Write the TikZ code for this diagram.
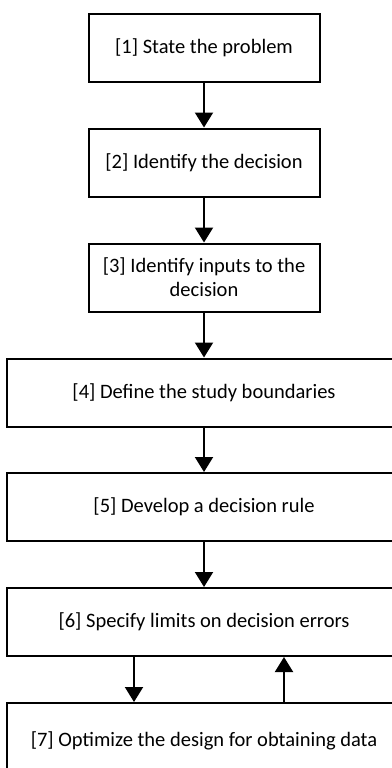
\documentclass[tikz,border=0pt]{standalone}
\usepackage{fontspec}
\setmainfont{Carlito}
\usepackage{tikz}
\usetikzlibrary{arrows.meta,positioning}
\tikzset{
  stepbox/.style={rectangle, draw=black, line width=2pt, fill=white,
                 align=center, inner sep=0pt, minimum height=68pt,
                 font=\fontsize{20.5}{24}\selectfont},
  narrow/.style={stepbox, minimum width=231pt},
  wide/.style  ={stepbox, minimum width=394pt},
  ar/.style    ={-{Triangle[length=15pt,width=18pt]}, draw=black, line width=2pt}
}
\begin{document}
\begin{tikzpicture}[x=1pt,y=-1pt]
\useasboundingbox (0,0) rectangle (391,768);
\node[narrow] (s1) at (204,48)    {[1] State the problem};
\node[narrow] (s2) at (204,162.5) {[2] Identify the decision};
\node[narrow] (s3) at (204,277.5) {[3] Identify inputs to the\\decision};
\node[wide]   (s4) at (204,392.5) {[4] Define the study boundaries};
\node[wide]   (s5) at (204,507)   {[5] Develop a decision rule};
\node[wide]   (s6) at (204,622)   {[6] Specify limits on decision errors};
\node[wide, minimum height=76pt] (s7) at (204,741) {[7] Optimize the design for obtaining data};
\draw[ar] (s1) -- (s2);
\draw[ar] (s2) -- (s3);
\draw[ar] (s3) -- (s4);
\draw[ar] (s4) -- (s5);
\draw[ar] (s5) -- (s6);
% feedback loop between 6 and 7
\draw[ar] ([xshift=-70pt]s6.south) -- ([xshift=-70pt]s7.north);
\draw[ar] ([xshift=80pt]s7.north) -- ([xshift=80pt]s6.south);
\end{tikzpicture}
\end{document}
